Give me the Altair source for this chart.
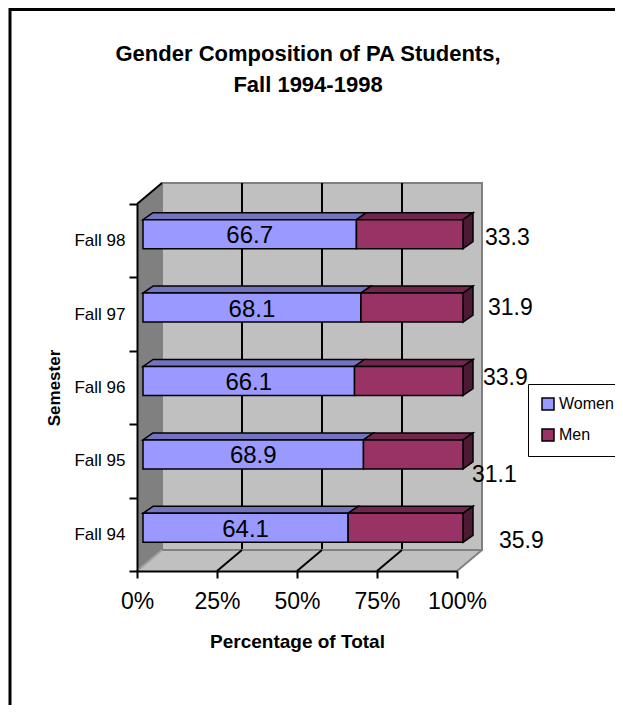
import altair as alt
import pandas as pd

# ---------------- data ----------------
semesters = ["Fall 94", "Fall 95", "Fall 96", "Fall 97", "Fall 98"]
women = [64.1, 68.9, 66.1, 68.1, 66.7]
men = [35.9, 31.1, 33.9, 31.9, 33.3]
series = ["Women", "Men"]
x_ticks = [0, 25, 50, 75, 100]
title_lines = ["Gender Composition of PA Students,", "Fall 1994-1998"]

# ---------------- style / geometry constants ----------------
FONT = "Liberation Sans"
N = len(semesters)
FRONT_W = 320.0          # px spanned by 0..100 on the front plane
BAND_H = 73.4            # px per category band
WALL_DX, WALL_DY = 25.0, 21.0   # depth of the 3-D box in px
PLOT_W = FRONT_W + WALL_DX
PLOT_H = BAND_H * N + WALL_DY

ux = 100.0 / FRONT_W     # data units per px (x)
uy = 1.0 / BAND_H        # data units per px (y)
wdx, wdy = WALL_DX * ux, WALL_DY * uy
BAR_X0 = 6 * ux
BAR_SHIFT = 6.5 * uy
BAR_HALF = 14.5 * uy
BDX, BDY = 10 * ux, 7 * uy

COL_FRONT = {"Women": "#9999FF", "Men": "#993366"}
COL_TOP = {"Women": "#7373BF", "Men": "#73264D"}
COL_SIDE = "#4D1A33"

# per-row nudges of the outside "Men" labels (px), rows Fall 94..98
men_label_dx = [36, 9, 20, 25, 22]
men_label_dy = [13, 21, -3, 0, 4]

xs = alt.Scale(domain=[0, 100], range=[0, FRONT_W], nice=False, zero=False)
ys = alt.Scale(domain=[0, N], range=[PLOT_H, WALL_DY], nice=False, zero=False)

label_expr = ("datum.value >= 1 ? " + str(semesters) + "[datum.value - 1] : ''")

x_axis = alt.Axis(values=x_ticks, labelExpr="datum.value + '%'", title="Percentage of Total",
                  titleFont=FONT, titleFontSize=19, titleFontWeight="bold", titleColor="black",
                  labelFont=FONT, labelFontSize=23, labelColor="black", labelFlush=False,
                  tickSize=7, tickWidth=2, tickColor="black", domainColor="black", domainWidth=2,
                  labelPadding=12, titlePadding=19, grid=False, zindex=1)
y_axis = alt.Axis(values=list(range(N + 1)), labelExpr=label_expr, labelOffset=BAND_H / 2,
                  title="Semester", titleFont=FONT, titleFontSize=17, titleFontWeight="bold",
                  titleColor="black", labelFont=FONT, labelFontSize=17, labelColor="black",
                  tickSize=8, tickWidth=2, tickColor="black", domainColor="black", domainWidth=2,
                  labelPadding=4, titlePadding=10, grid=False, labelOverlap=False, zindex=1)


def X(f):
    return alt.X(f, scale=xs, axis=x_axis)


def Y(f):
    return alt.Y(f, scale=ys, axis=y_axis)


# ---------------- geometry tables derived from the data ----------------
seg_rows, top_rows, side_rows, wlab_rows, mlab_rows = [], [], [], [], []
for i, sem in enumerate(semesters):
    c = i + 0.5 + BAR_SHIFT
    yb, yt = c - BAR_HALF, c + BAR_HALF
    spans = {"Women": (BAR_X0, BAR_X0 + women[i]),
             "Men": (BAR_X0 + women[i], BAR_X0 + women[i] + men[i])}
    for s in series:
        a, b = spans[s]
        sid = f"{sem}-{s}"
        seg_rows.append(dict(id=sid, series=s, a=a, b=b, yb=yb, yt=yt))
        top_rows.append(dict(id=sid, col=COL_TOP[s], y=yt, x=a, x2=b))
        top_rows.append(dict(id=sid, col=COL_TOP[s], y=yt + BDY, x=a + BDX, x2=b + BDX))
        if s == "Men":
            side_rows.append(dict(id=sid, x=b, y=yb, y2=yt))
            side_rows.append(dict(id=sid, x=b + BDX, y=yb + BDY, y2=yt + BDY))
    wa, wb = spans["Women"]
    wlab_rows.append(dict(x=(wa + wb) / 2, y=c, t=f"{women[i]:.1f}"))
    mlab_rows.append(dict(x=spans["Men"][1], y=c, t=f"{men[i]:.1f}"))

seg_df = pd.DataFrame(seg_rows)
top_df = pd.DataFrame(top_rows)
side_df = pd.DataFrame(side_rows)
wlab_df = pd.DataFrame(wlab_rows)
mlab_df = pd.DataFrame(mlab_rows)

wall_df = pd.DataFrame({"x": [wdx], "x2": [100 + wdx], "y": [wdy], "y2": [N + wdy]})
grid_df = pd.DataFrame({"x": [v + wdx for v in x_ticks[1:-1]], "y": [wdy] * 3, "y2": [N + wdy] * 3})
diag_df = pd.DataFrame({"x": x_ticks[1:-1], "y": [0] * 3,
                        "x2": [v + wdx for v in x_ticks[1:-1]], "y2": [wdy] * 3})
lwall_df = pd.DataFrame({"x": [0, wdx], "y": [0, wdy], "y2": [N, N + wdy]})
floor_df = pd.DataFrame({"y": [0, wdy], "x": [0, wdx], "x2": [100, 100 + wdx]})
edge_df = pd.DataFrame({"x": [0, 100], "y": [0, 0], "x2": [wdx, 100 + wdx], "y2": [wdy, wdy],
                        "c": ["#A0A0A0", "#808080"]})
ltop_df = pd.DataFrame({"x": [0], "y": [N], "x2": [wdx], "y2": [N + wdy]})
one = pd.DataFrame({"k": [0]})

# ---------------- layers ----------------
back_wall = alt.Chart(wall_df).mark_rect(fill="#C0C0C0", stroke="#808080", strokeWidth=2).encode(
    x=X("x:Q"), x2="x2:Q", y=Y("y:Q"), y2="y2:Q")

grid = alt.Chart(grid_df).mark_rule(color="black", strokeWidth=2).encode(
    x=X("x:Q"), y=Y("y:Q"), y2="y2:Q")

left_wall = alt.Chart(lwall_df).mark_area(orient="vertical", fill="#808080").encode(
    x=X("x:Q"), y=Y("y:Q"), y2="y2:Q")

floor = alt.Chart(floor_df).mark_area(orient="horizontal", fill="#C0C0C0").encode(
    y=Y("y:Q"), x=X("x:Q"), x2="x2:Q")

floor_back = alt.Chart(wall_df).mark_rule(color="#808080", strokeWidth=2).encode(
    x=X("x:Q"), x2="x2:Q", y=Y("y:Q"))

diag = alt.Chart(diag_df).mark_rule(color="black", strokeWidth=2).encode(
    x=X("x:Q"), x2="x2:Q", y=Y("y:Q"), y2="y2:Q")

edges = alt.Chart(edge_df).mark_rule(strokeWidth=2).encode(
    x=X("x:Q"), x2="x2:Q", y=Y("y:Q"), y2="y2:Q",
    color=alt.Color("c:N", scale=None))

left_top = alt.Chart(ltop_df).mark_rule(color="black", strokeWidth=2).encode(
    x=X("x:Q"), x2="x2:Q", y=Y("y:Q"), y2="y2:Q")

tops = alt.Chart(top_df).mark_area(orient="horizontal", stroke="black", strokeWidth=1.5).encode(
    y=Y("y:Q"), x=X("x:Q"), x2="x2:Q",
    fill=alt.Fill("col:N", scale=None), detail="id:N")

sides = alt.Chart(side_df).mark_area(orient="vertical", fill=COL_SIDE, stroke="black",
                                     strokeWidth=1.5).encode(
    x=X("x:Q"), y=Y("y:Q"), y2="y2:Q", detail="id:N")

fronts = alt.Chart(seg_df).mark_rect(stroke="black", strokeWidth=1.5).encode(
    x=X("a:Q"), x2="b:Q", y=Y("yb:Q"), y2="yt:Q",
    color=alt.Color("series:N",
                    scale=alt.Scale(domain=series, range=[COL_FRONT[s] for s in series]),
                    legend=alt.Legend(orient="none", legendX=391, legendY=201, title=None,
                                      symbolType="square", symbolSize=144,
                                      symbolStrokeColor="black", symbolStrokeWidth=1.5,
                                      labelFont=FONT, labelFontSize=16, labelColor="black",
                                      labelOffset=3, strokeColor="black", fillColor="white",
                                      padding=12, rowPadding=13)))

wlabels = alt.Chart(wlab_df).mark_text(font=FONT, fontSize=24, color="black", align="center",
                                       baseline="middle", dy=2).encode(
    x=X("x:Q"), y=Y("y:Q"), text="t:N")

mlabels = []
for i in range(N):
    mlabels.append(
        alt.Chart(mlab_df.iloc[[i]]).mark_text(font=FONT, fontSize=23, color="black", align="left",
                                               baseline="middle", dx=men_label_dx[i],
                                               dy=men_label_dy[i]).encode(
            x=X("x:Q"), y=Y("y:Q"), text="t:N"))

title = alt.Chart(one).mark_text(text=title_lines, font=FONT, fontSize=22, fontWeight="bold",
                                 color="black", align="center", baseline="alphabetic",
                                 lineHeight=31).encode(x=alt.value(171), y=alt.value(-122))

frame = alt.Chart(one).mark_rect(fill="transparent", stroke="black", strokeWidth=3).encode(
    x=alt.value(-127), x2=alt.value(505), y=alt.value(-173.5), y2=alt.value(560))

chart = alt.layer(
    back_wall, grid, left_wall, floor, floor_back, diag, edges, left_top,
    tops, sides, fronts, wlabels, *mlabels, title, frame
).properties(
    width=PLOT_W, height=PLOT_H,
    autosize=alt.AutoSizeParams(type="none"),
    padding={"left": 129, "top": 175, "right": 133, "bottom": 134},
    background="white",
).configure_view(strokeWidth=0)

chart.save("out.html", embed_options={"renderer": "svg", "actions": False})
